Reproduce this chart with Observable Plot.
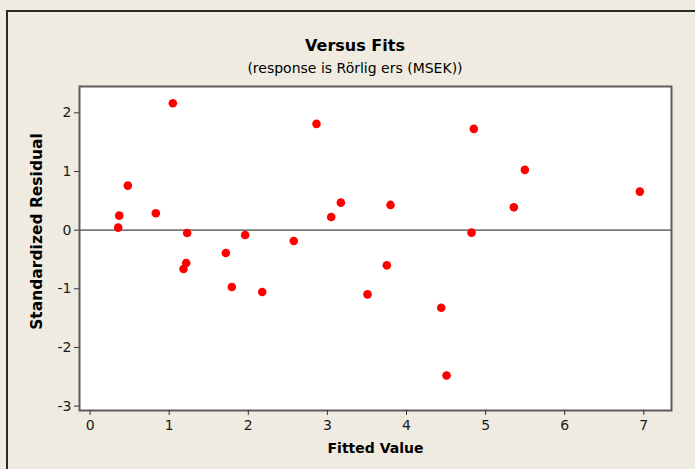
<!DOCTYPE html>
<html>
<head>
<meta charset="utf-8">
<script src="https://cdn.jsdelivr.net/npm/d3@7"></script>
<script src="https://cdn.jsdelivr.net/npm/@observablehq/plot@0.6"></script>
<style>
  html, body { margin: 0; padding: 0; background: #efebe1; }
  #wrap { position: relative; width: 695px; height: 469px; overflow: hidden; background: #efebe1; font-family: "DejaVu Sans", sans-serif; }
  #border { position: absolute; left: 6px; top: 10px; width: 900px; height: 900px; border-left: 2px solid #2a2a2a; border-top: 2px solid #2a2a2a; }
  .ttl { position: absolute; left: 0; width: 710px; text-align: center; color: #000; white-space: nowrap; z-index: 2; }
  #title { top: 38px; font-size: 16px; line-height: 16px; font-weight: bold; }
  #subtitle { top: 60.5px; font-size: 14px; line-height: 14px; }
  #chart { position: absolute; left: 0; top: 0; }
</style>
</head>
<body>
<div id="wrap">
  <div id="border"></div>
  <div id="title" class="ttl">Versus Fits</div>
  <div id="subtitle" class="ttl">(response is Rörlig ers (MSEK))</div>
  <div id="chart"></div>
</div>
<script>
// Fitted values and standardized residuals
const fitted = [0.355, 0.368, 0.477, 0.831, 1.046, 1.181, 1.215, 1.227, 1.716, 1.792, 1.960, 2.176, 2.575, 2.862, 3.048, 3.170, 3.507, 3.751, 3.798, 4.439, 4.506, 4.822, 4.851, 5.357, 5.496, 6.950];
const residuals = [0.043, 0.247, 0.759, 0.287, 2.164, -0.662, -0.560, -0.048, -0.390, -0.970, -0.082, -1.055, -0.185, 1.812, 0.225, 0.469, -1.095, -0.600, 0.430, -1.323, -2.478, -0.043, 1.727, 0.389, 1.027, 0.657];
const xTicks = [0, 1, 2, 3, 4, 5, 6, 7];
const yTicks = [-3, -2, -1, 0, 1, 2];
const xLabel = "Fitted Value";
const yLabel = "Standardized Residual";

const points = fitted.map((f, i) => ({fit: f, res: residuals[i]}));

const plot = Plot.plot({
  width: 695,
  height: 469,
  marginLeft: 79,
  marginRight: 24,
  marginTop: 86,
  marginBottom: 59,
  style: {background: "transparent", fontFamily: "'DejaVu Sans', sans-serif", color: "#1a1a1a"},
  x: {domain: [-0.134, 7.35]},
  y: {domain: [-3.075, 2.449]},
  marks: [
    Plot.frame({fill: "white", stroke: null}),
    Plot.ruleY([0], {stroke: "#7a7a7a", strokeWidth: 1.6}),
    Plot.dot(points, {x: "fit", y: "res", r: 4.3, fill: "#ff0000", stroke: null}),
    Plot.frame({stroke: "#5c5c5c", strokeWidth: 2}),
    Plot.axisX({ticks: xTicks, tickSize: 5, tickPadding: 5, fontSize: 14, label: null, stroke: "#333", fill: "#1a1a1a", tickFormat: d => d}),
    Plot.axisY({ticks: yTicks, tickSize: 5, tickPadding: 3, fontSize: 14, label: null, stroke: "#333", fill: "#1a1a1a", tickFormat: d => d < 0 ? "-" + Math.abs(d) : String(d)}),
    Plot.text([xLabel], {frameAnchor: "bottom", dy: 42, lineAnchor: "bottom", fontWeight: "bold", fontSize: 14, fill: "#000"}),
    Plot.text([yLabel], {frameAnchor: "left", rotate: -90, dx: -42, dy: -17, textAnchor: "middle", lineAnchor: "middle", fontWeight: "bold", fontSize: 15.5, fill: "#000"})
  ]
});
document.getElementById("chart").appendChild(plot);
</script>
</body>
</html>
